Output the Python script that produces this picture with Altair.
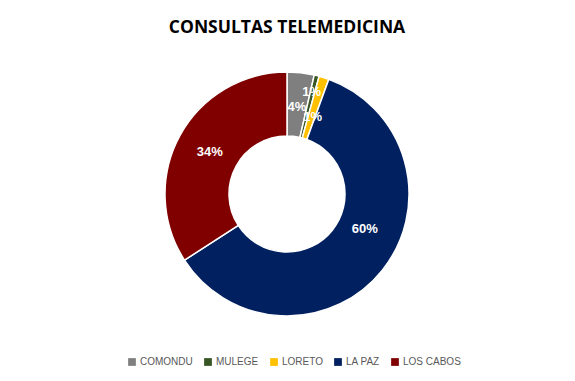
import altair as alt
import pandas as pd

categories = ["COMONDU", "MULEGE", "LORETO", "LA PAZ", "LOS CABOS"]
values = [38, 7, 14, 640, 362]
colors = ["#7F7F7F", "#375623", "#FFC000", "#002060", "#800000"]

total = sum(values)
df = pd.DataFrame({
    "region": categories,
    "value": values,
    "idx": list(range(len(categories))),
    "label": [f"{round(v / total * 100)}%" for v in values],
})

base = alt.Chart(df).transform_stack(
    stack="value", groupby=[], as_=["v0", "v1"], sort=[alt.SortField("idx")]
).transform_calculate(mid="(datum.v0 + datum.v1) / 2")

theta_scale = alt.Scale(domain=[0, total])

arcs = base.mark_arc(innerRadius=58, outerRadius=122, stroke="white", strokeWidth=1.5).encode(
    theta=alt.Theta("v0:Q", scale=theta_scale),
    theta2="v1:Q",
    color=alt.Color(
        "region:N",
        scale=alt.Scale(domain=categories, range=colors),
        sort=categories,
        legend=alt.Legend(
            title=None,
            orient="none",
            direction="horizontal",
            legendX=119,
            legendY=349,
            symbolType="square",
            symbolSize=60,
            symbolStrokeWidth=0,
            labelFontSize=10,
            labelColor="#595959",
            labelFont="Liberation Sans",
            columnPadding=10,
            symbolOffset=0,
            labelOffset=3,
        ),
    ),
)

text_style = dict(fontSize=13, fontWeight="bold", color="white", font="Liberation Sans",
                  align="center", baseline="middle")

def label_layer(names, radius, dx=0, dy=0):
    return base.mark_text(radius=radius, dx=dx, dy=dy, **text_style).encode(
        theta=alt.Theta("mid:Q", scale=theta_scale),
        text="label:N",
    ).transform_filter(alt.FieldOneOfPredicate(field="region", oneOf=names))

main_labels = label_layer(["COMONDU", "LOS CABOS"], 88)
lapaz_label = label_layer(["LA PAZ"], 88, dx=9, dy=-20)
mulege_label = label_layer(["MULEGE"], 105, dx=-1)
loreto_label = label_layer(["LORETO"], 81, dx=1)

chart = alt.layer(arcs, main_labels, lapaz_label, mulege_label, loreto_label).properties(
    width=558,
    height=372,
    title=alt.TitleParams(
        "CONSULTAS TELEMEDICINA",
        fontSize=17.5,
        fontWeight="bold",
        font="Open Sans",
        color="#000000",
        anchor="middle",
        baseline="top",
        offset=-28,
    ),
    autosize=alt.AutoSizeParams(type="none"),
    padding=0,
).configure_view(stroke=None).configure(background="white")

chart.save("out.html", embed_options={"renderer": "svg", "actions": False})
